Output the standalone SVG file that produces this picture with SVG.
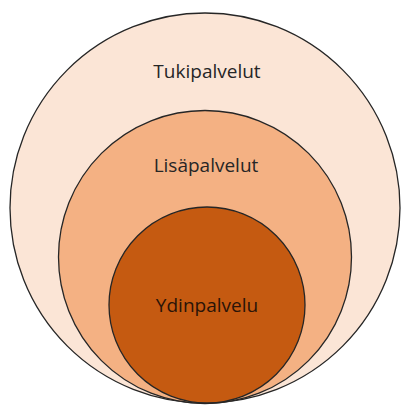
<svg xmlns="http://www.w3.org/2000/svg" width="401" height="408" viewBox="0 0 401 408">
<style>
.c{stroke:#262626;stroke-width:1.3}
.t{font-family:"Open Sans","Liberation Sans",sans-serif;font-size:19px;text-anchor:middle;fill:#262626}
</style>
<rect width="401" height="408" fill="#ffffff"/>
<g id="tukipalvelut">
<circle class="c" cx="205" cy="208" r="195" fill="#FBE5D6"/>
<text class="t" x="207" y="78">Tukipalvelut</text>
</g>
<g id="lisapalvelut">
<circle class="c" cx="205" cy="257" r="146.5" fill="#F4B183"/>
<text class="t" x="206" y="172">Lisäpalvelut</text>
</g>
<g id="ydinpalvelu">
<circle class="c" cx="207" cy="305" r="98" fill="#C55A11"/>
<text class="t" x="207" y="312" fill="#2a1408" style="fill:#2a1408">Ydinpalvelu</text>
</g>
</svg>
